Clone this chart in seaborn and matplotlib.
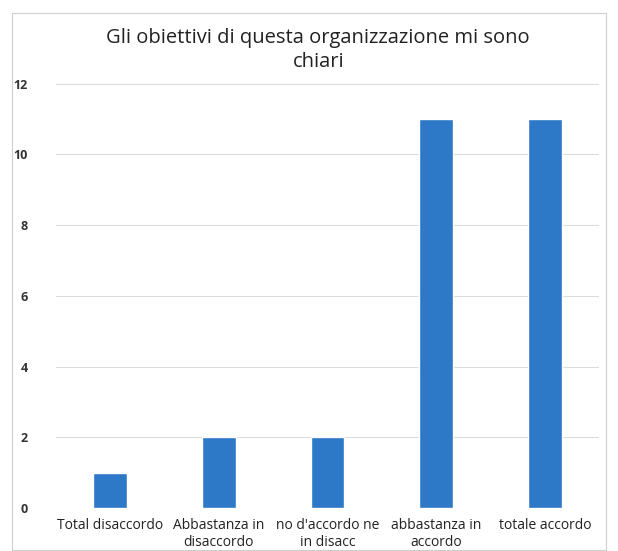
import matplotlib
matplotlib.use("Agg")
import matplotlib.pyplot as plt
import seaborn as sns
import pandas as pd
from matplotlib.patches import Rectangle

categories = ["Total disaccordo", "Abbastanza in\ndisaccordo", "no d'accordo ne\nin disacc",
              "abbastanza in\naccordo", "totale accordo"]
values = [1, 2, 2, 11, 11]
y_ticks = [0, 2, 4, 6, 8, 10, 12]

df = pd.DataFrame({"Risposta": categories, "Conteggio": values})

sns.set_theme(style="white")
plt.rcParams['font.family'] = ['Open Sans', 'DejaVu Sans']

fig = plt.figure(figsize=(6.18, 5.51), dpi=100)
ax = fig.add_axes([0.09, 0.078, 0.88, 0.77])

sns.barplot(data=df, x="Risposta", y="Conteggio", color="#2E78C8", width=0.31,
            saturation=1, ax=ax)

ax.set_ylim(0, 12)
ax.set_yticks(y_ticks)
ax.yaxis.grid(True, color="#dcdcdc", linewidth=0.8)
ax.set_axisbelow(True)
for s in ax.spines.values():
    s.set_visible(False)
ax.set_xlabel("")
ax.set_ylabel("")
ax.tick_params(axis="y", length=0, labelsize=9, labelcolor="#333333", pad=20)
ax.tick_params(axis="x", length=0, labelsize=10, labelcolor="#222222", pad=7)
for t in ax.get_yticklabels():
    t.set_fontweight("bold")

fig.suptitle("Gli obiettivi di questa organizzazione mi sono\nchiari",
             x=0.515, y=0.95, fontsize=14.5, color="#222222", linespacing=1.3)

# thin outer border of the chart area
fig.patches.append(Rectangle((0.02, 0.002), 0.96, 0.975, transform=fig.transFigure,
                             fill=False, edgecolor="#cfcfcf", linewidth=0.8))

plt.savefig("out.png", dpi=100)
plt.close()
